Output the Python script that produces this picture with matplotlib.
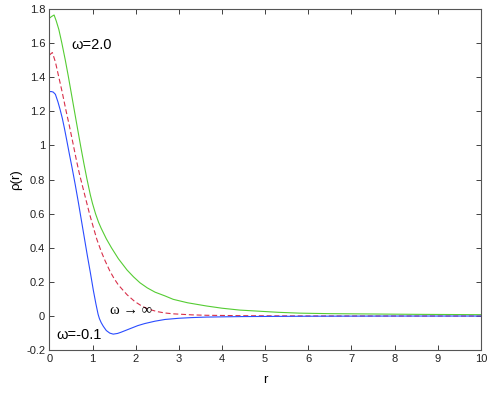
import numpy as np
import matplotlib.pyplot as plt
import matplotlib as mpl
from matplotlib.ticker import MultipleLocator

# values
r_green = [0, 0.05, 0.11, 0.16, 0.22, 0.29, 0.37, 0.44, 0.52, 0.6, 0.67, 0.73, 0.8, 0.87, 0.95, 1.0, 1.07, 1.14, 1.2, 1.32, 1.44, 1.6, 1.8, 1.95, 2.1, 2.27, 2.45, 2.68, 2.87, 3.2, 3.64, 4.0, 4.41, 5.3, 5.8, 6.5, 7.5, 8.5, 10.0]
rho_green = [1.746, 1.756, 1.765, 1.73, 1.68, 1.60, 1.50, 1.405, 1.29, 1.175, 1.075, 0.99, 0.895, 0.805, 0.71, 0.66, 0.60, 0.55, 0.515, 0.453, 0.40, 0.336, 0.27, 0.23, 0.195, 0.165, 0.14, 0.118, 0.098, 0.078, 0.059, 0.046, 0.035, 0.022, 0.017, 0.014, 0.012, 0.010, 0.008]

r_red = [0, 0.07, 0.14, 0.22, 0.3, 0.39, 0.46, 0.55, 0.63, 0.7, 0.76, 0.84, 0.93, 1.02, 1.1, 1.2, 1.29, 1.4, 1.5, 1.6, 1.8, 1.98, 2.14, 2.29, 2.5, 2.68, 2.87, 3.3, 3.64, 4.5, 6.0, 10.0]
rho_red = [1.53, 1.545, 1.49, 1.40, 1.31, 1.20, 1.12, 1.01, 0.91, 0.83, 0.77, 0.69, 0.60, 0.52, 0.45, 0.38, 0.325, 0.265, 0.22, 0.182, 0.125, 0.085, 0.059, 0.041, 0.026, 0.018, 0.013, 0.007, 0.0045, 0.002, 0.0005, 0.0]

r_blue = [0, 0.05, 0.09, 0.14, 0.2, 0.25, 0.3, 0.35, 0.4, 0.46, 0.53, 0.6, 0.67, 0.74, 0.81, 0.88, 0.95, 1.02, 1.08, 1.13, 1.16, 1.2, 1.25, 1.32, 1.4, 1.48, 1.58, 1.66, 1.75, 1.9, 2.05, 2.21, 2.45, 2.68, 3.0, 3.3, 3.64, 4.5, 6.0, 8.0, 10.0]
rho_blue = [1.316, 1.316, 1.313, 1.30, 1.255, 1.21, 1.16, 1.10, 1.035, 0.955, 0.865, 0.77, 0.67, 0.565, 0.46, 0.355, 0.255, 0.15, 0.07, 0.01, -0.015, -0.038, -0.06, -0.085, -0.1, -0.106, -0.102, -0.095, -0.086, -0.071, -0.056, -0.044, -0.03, -0.02, -0.013, -0.009, -0.006, -0.003, -0.001, 0.0, 0.0]

yticks = [-0.2, 0, 0.2, 0.4, 0.6, 0.8, 1, 1.2, 1.4, 1.6, 1.8]
ytick_labels = ['-0.2', '0', '0.2', '0.4', '0.6', '0.8', '1', '1.2', '1.4', '1.6', '1.8']

mpl.rcParams['font.family'] = ['Liberation Sans', 'DejaVu Sans']

fig = plt.figure(figsize=(4.91, 3.93), dpi=100)
ax = fig.add_axes([0.1005, 0.109, 0.879, 0.868])

ax.plot(r_green, rho_green, color='#55cc33', lw=0.8)
ax.plot(r_red, rho_red, color='#d8304a', lw=0.8, dashes=(4.5, 2.5))
ax.plot(r_blue, rho_blue, color='#2a4cff', lw=0.8)

ax.text(0.52, 1.59, 'ω=2.0', fontsize=10.5, ha='left', va='center')
ax.text(0.17, -0.11, 'ω=-0.1', fontsize=10.5, ha='left', va='center')
ax.text(1.40, 0.03, 'ω → ∞', fontsize=10.5, ha='left', va='center',
        family=['Liberation Serif', 'DejaVu Serif'])

ax.set_xlim(0, 10)
ax.set_ylim(-0.2, 1.8)
ax.xaxis.set_major_locator(MultipleLocator(1))
ax.set_yticks(yticks)
ax.set_yticklabels(ytick_labels)
ax.tick_params(axis='both', which='major', length=3.5, width=0.6, direction='in',
               top=True, right=True, labelsize=8, colors='#222222', pad=3)
for s in ax.spines.values():
    s.set_linewidth(0.8)
    s.set_color('#555555')

ax.set_xlabel('r', fontsize=9.5, labelpad=7)
ax.set_ylabel('ρ(r)', fontsize=9.5, labelpad=3)

plt.savefig('out.png', dpi=100)
